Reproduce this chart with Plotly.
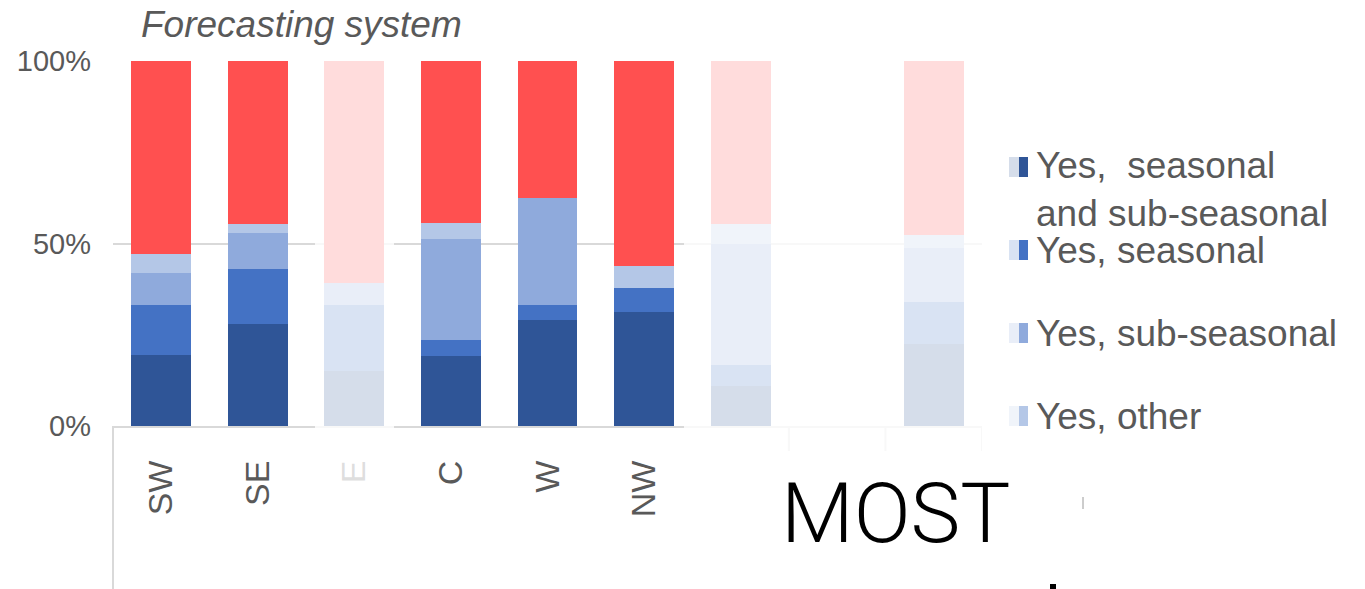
import plotly.graph_objects as go

# ---------------- data (percent) ----------------
categories = ["SW", "SE", "E", "C", "W", "NW", "", "", ""]
series_names = ["Yes,  seasonal<br>and sub-seasonal", "Yes, seasonal", "Yes, sub-seasonal", "Yes, other", "No"]
seasonal_and_sub = [19.5, 27.9, 15.2, 19.2, 29.0, 31.1, 11.0, 0, 22.4]
seasonal = [13.7, 15.1, 18.0, 4.5, 4.2, 6.6, 5.7, 0, 11.5]
sub_seasonal = [8.6, 9.9, 6.1, 27.5, 29.2, 0.0, 33.2, 0, 14.9]
other = [5.3, 2.4, 0.0, 4.5, 0.0, 6.1, 5.4, 0, 3.6]
no = [52.9, 44.7, 60.7, 44.3, 37.6, 56.2, 44.7, 0, 47.6]
y_ticks = [0, 50, 100]
y_tick_labels = ["0%", "50%", "100%"]

colors = ["#2f5597", "#4472c4", "#8faadc", "#b4c7e7", "#ff5050"]
series = [seasonal_and_sub, seasonal, sub_seasonal, other, no]

W, H = 1365, 589
L, R, T, B = 113, 383, 61, 163
PW, PH = W - L - R, H - T - B


def px_x(px):
    return (px - L) / PW


def px_y(py):
    return (H - B - py) / PH


xpos = list(range(len(categories)))
fig = go.Figure()
for name, vals, col in zip(series_names, series, colors):
    fig.add_trace(go.Bar(x=xpos, y=vals, name=name, marker_color=col,
                         marker_line_width=0, showlegend=False))

font_main = "Liberation Sans, Arial, sans-serif"
gray_text = "#595959"
grid = "#d9d9d9"

shapes = []
# long left line below axis
shapes.append(dict(type="line", xref="paper", yref="paper", x0=0, x1=0,
                   y0=0, y1=px_y(589), line=dict(color=grid, width=2)))
# category boundary ticks on the right part
for b in [6.5, 7.5, 8.5]:
    shapes.append(dict(type="line", xref="x", yref="paper", x0=b, x1=b,
                       y0=0, y1=px_y(451), line=dict(color=grid, width=2)))

# legend (manual) : symbols + text
legend_centers = [167, 250, 333, 416]
annotations = []
for name, col, cy in zip(series_names[:4], colors[:4], legend_centers):
    shapes.append(dict(type="rect", xref="paper", yref="paper",
                       x0=px_x(1009), x1=px_x(1028), y0=px_y(cy + 10), y1=px_y(cy - 10),
                       fillcolor=col, line=dict(width=0)))
    ytext = cy + 22 if "<br>" in name else cy
    annotations.append(dict(text=name, xref="paper", yref="paper", x=px_x(1034), y=px_y(ytext),
                            xanchor="left", yanchor="middle", align="left", showarrow=False,
                            font=dict(family=font_main, size=37, color=gray_text)))

# white veils fading parts of the chart
shapes.append(dict(type="rect", xref="paper", yref="paper", layer="above",
                   x0=px_x(315), x1=px_x(394), y0=px_y(525), y1=px_y(46),
                   fillcolor="white", opacity=0.8, line=dict(width=0)))
shapes.append(dict(type="rect", xref="paper", yref="paper", layer="above",
                   x0=px_x(684), x1=px_x(1019), y0=px_y(462), y1=px_y(46),
                   fillcolor="white", opacity=0.8, line=dict(width=0)))

# small stray marks
shapes.append(dict(type="line", xref="paper", yref="paper", layer="above",
                   x0=px_x(1083), x1=px_x(1083), y0=px_y(509), y1=px_y(497),
                   line=dict(color="#9a9a9a", width=1)))
shapes.append(dict(type="rect", xref="paper", yref="paper", layer="above",
                   x0=px_x(1050), x1=px_x(1056), y0=px_y(589), y1=px_y(584),
                   fillcolor="black", line=dict(width=0)))

# title
annotations.append(dict(text="<i>Forecasting system</i>", xref="paper", yref="paper",
                        x=px_x(139), y=px_y(25), xanchor="left", yanchor="middle",
                        showarrow=False, font=dict(family=font_main, size=37, color=gray_text)))
# big overlaid word
annotations.append(dict(text="MOST", xref="paper", yref="paper",
                        x=px_x(779), y=px_y(513), xanchor="left", yanchor="middle",
                        showarrow=False, font=dict(family="Roboto, sans-serif", size=84,
                                                   color="black", weight=300)))

fig.update_layout(
    width=W, height=H,
    margin=dict(l=L, r=R, t=T, b=B, pad=0, autoexpand=False),
    barmode="stack", bargap=0.38,
    plot_bgcolor="white", paper_bgcolor="white",
    showlegend=False,
    shapes=shapes, annotations=annotations,
    xaxis=dict(tickmode="array", tickvals=xpos, ticktext=categories, tickangle=-90,
               range=[-0.5, len(categories) - 0.5], showgrid=False, automargin=False,
               showline=True, linecolor=grid, linewidth=2, ticks="",
               ticklabelstandoff=19,
               tickfont=dict(family=font_main, size=34, color=gray_text)),
    yaxis=dict(range=[0, 100], tickmode="array", tickvals=y_ticks, ticktext=y_tick_labels,
               showgrid=True, gridcolor=grid, gridwidth=2, zeroline=False, automargin=False,
               showline=False, ticks="", ticklabelstandoff=21,
               tickfont=dict(family=font_main, size=29, color=gray_text)),
)

fig.write_html("out.html", config={"displayModeBar": False},
               post_script="document.body.style.margin='0px';document.body.style.overflow='hidden';")
